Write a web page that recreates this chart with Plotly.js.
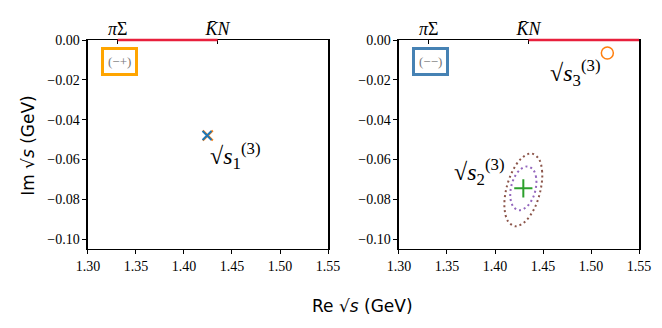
<!DOCTYPE html>
<html>
<head>
<meta charset="utf-8">
<script src="https://cdn.plot.ly/plotly-3.0.1.min.js"></script>
<style>html,body{margin:0;padding:0;background:#fff;}</style>
</head>
<body>
<div id="chart" style="width:662px;height:328px;"></div>
<script>
// thresholds (GeV)
var thrNames = ['<i>π</i>Σ', '<i>K̄N</i>'];
var thrVals = [1.331, 1.435];

// pole positions
var pole1Re = [1.424], pole1Im = [-0.048];   // (-+) sheet
var pole2Re = [1.4295], pole2Im = [-0.0745]; // (--) sheet
var pole3Re = [1.517], pole3Im = [-0.0065];  // (--) sheet

// uncertainty contours of pole 2
var innerRe = [1.4425, 1.4428, 1.4395, 1.4335, 1.4265, 1.4202, 1.4165, 1.4162, 1.4195, 1.4255, 1.4325, 1.4388, 1.4425];
var innerIm = [-0.0745, -0.069, -0.065, -0.0635, -0.065, -0.069, -0.0745, -0.080, -0.084, -0.0855, -0.084, -0.080, -0.0745];
var outerRe = [1.4475, 1.4491, 1.4454, 1.4375, 1.4274, 1.4179, 1.4115, 1.4099, 1.4136, 1.4215, 1.4316, 1.4411, 1.4475];
var outerIm = [-0.0753, -0.0662, -0.0595, -0.057, -0.0595, -0.0662, -0.0753, -0.0845, -0.0911, -0.0936, -0.0911, -0.0845, -0.0753];

// cut on the real axis (Im = 0, the top edge of each panel)
var cutLeftRe = [1.331, 1.435];
var cutRightRe = [1.435, 1.55];

var blue = '#1f77b4', orange = '#ff7f0e', green = '#2ca02c';
var purple = '#9467bd', brown = '#8c564b', red = '#e8203c';

var data = [
  { x: pole1Re.map(function (v) { return v + 0.0008; }), y: pole1Im, xaxis: 'x', yaxis: 'y', mode: 'markers',
    marker: { symbol: 'x-thin', size: 10, color: orange, line: { color: orange, width: 2 } } },
  { x: pole1Re, y: pole1Im, xaxis: 'x', yaxis: 'y', mode: 'markers',
    marker: { symbol: 'x-thin', size: 9, color: blue, line: { color: blue, width: 2 } } },

  { x: outerRe, y: outerIm, xaxis: 'x2', yaxis: 'y2', mode: 'lines',
    line: { color: brown, width: 2, dash: '2px,3px', shape: 'spline' } },
  { x: innerRe, y: innerIm, xaxis: 'x2', yaxis: 'y2', mode: 'lines',
    line: { color: purple, width: 2, dash: '2px,3px', shape: 'spline' } },
  { x: pole2Re, y: pole2Im, xaxis: 'x2', yaxis: 'y2', mode: 'markers',
    marker: { symbol: 'cross-thin', size: 13, color: green, line: { color: green, width: 2 } } },
  { x: pole3Re, y: pole3Im, xaxis: 'x2', yaxis: 'y2', mode: 'markers', cliponaxis: false,
    marker: { symbol: 'circle-open', size: 12, color: orange, line: { color: orange, width: 1.5 } } },

  // invisible traces so the top threshold axes get drawn
  { x: thrVals, y: [0, 0], xaxis: 'x3', yaxis: 'y', mode: 'markers', marker: { opacity: 0 }, hoverinfo: 'skip' },
  { x: thrVals, y: [0, 0], xaxis: 'x4', yaxis: 'y2', mode: 'markers', marker: { opacity: 0 }, hoverinfo: 'skip' }
];

var tickFont = { family: 'Liberation Serif, DejaVu Serif, serif', size: 14, color: '#000' };

function xax(dom) {
  return {
    domain: dom, range: [1.30, 1.55], tickvals: [1.30, 1.35, 1.40, 1.45, 1.50, 1.55],
    tickformat: '.2f', ticks: 'outside', ticklen: 4, tickwidth: 1, tickcolor: '#000',
    showline: true, linecolor: '#000', linewidth: 1.5, mirror: true, layer: 'below traces',
    showgrid: false, zeroline: false, tickfont: tickFont
  };
}
function yax(anchor) {
  return {
    anchor: anchor, domain: [0.2409, 0.878], range: [-0.105, 0],
    tickvals: [0, -0.02, -0.04, -0.06, -0.08, -0.10], tickformat: '.2f',
    ticks: 'outside', ticklen: 4, tickwidth: 1, tickcolor: '#000',
    showline: true, linecolor: '#000', linewidth: 1.5, mirror: true, layer: 'below traces',
    showgrid: false, zeroline: false, tickfont: tickFont
  };
}
function topax(over, dom) {
  return {
    overlaying: over, side: 'top', anchor: over === 'x' ? 'y' : 'y2', domain: dom,
    range: [1.30, 1.55], tickvals: thrVals, ticktext: thrNames,
    ticks: 'inside', ticklen: 4, tickwidth: 1, tickcolor: '#000', layer: 'below traces',
    showline: false, showgrid: false, zeroline: false,
    tickfont: { family: 'Liberation Serif, DejaVu Serif, serif', size: 18, color: '#000' }
  };
}

var lx = xax([0.1329, 0.4955]); lx.anchor = 'y';
var rx = xax([0.6027, 0.9653]); rx.anchor = 'y2';

var labelFont = { family: 'Liberation Serif, DejaVu Serif, serif', size: 24, color: '#000' };

var layout = {
  width: 662, height: 328,
  margin: { l: 0, r: 0, t: 0, b: 0 },
  paper_bgcolor: '#fff', plot_bgcolor: '#fff',
  showlegend: false,
  xaxis: lx, yaxis: yax('x'),
  xaxis2: rx, yaxis2: yax('x2'),
  xaxis3: topax('x', [0.1329, 0.4955]),
  xaxis4: topax('x2', [0.6027, 0.9653]),
  shapes: [
    { type: 'line', layer: 'above', xref: 'x', yref: 'y domain', x0: cutLeftRe[0], x1: cutLeftRe[1], y0: 1, y1: 1,
      line: { color: red, width: 2.5 } },
    { type: 'line', layer: 'above', xref: 'x2', yref: 'y2 domain', x0: cutRightRe[0], x1: cutRightRe[1], y0: 1, y1: 1,
      line: { color: red, width: 2.5 } }
  ],
  annotations: [
    { xref: 'x', yref: 'y', x: 1.3325, y: -0.0108, text: '(−+)', showarrow: false,
      font: { family: 'Liberation Serif, serif', size: 13, color: '#777' },
      bordercolor: '#ffa500', borderwidth: 3, borderpad: 4, bgcolor: '#fff' },
    { xref: 'x2', yref: 'y2', x: 1.3325, y: -0.0108, text: '(−−)', showarrow: false,
      font: { family: 'Liberation Serif, serif', size: 13, color: '#777' },
      bordercolor: '#4682b4', borderwidth: 3, borderpad: 4, bgcolor: '#fff' },
    { xref: 'x', yref: 'y', x: 1.4245, y: -0.0585, xanchor: 'left', showarrow: false,
      text: '√<i>s</i><sub>1</sub><sup>(3)</sup>', font: labelFont },
    { xref: 'x2', yref: 'y2', x: 1.4115, y: -0.0665, xanchor: 'right', showarrow: false,
      text: '√<i>s</i><sub>2</sub><sup>(3)</sup>', font: labelFont },
    { xref: 'x2', yref: 'y2', x: 1.5115, y: -0.0165, xanchor: 'right', showarrow: false,
      text: '√<i>s</i><sub>3</sub><sup>(3)</sup>', font: labelFont },
    { xref: 'paper', yref: 'paper', x: 0.548, y: 0.03, showarrow: false,
      text: 'Re √<i>s</i> (GeV)', font: { family: 'DejaVu Sans, sans-serif', size: 17, color: '#000' } },
    { xref: 'paper', yref: 'paper', x: 0.024, y: 0.558, showarrow: false, textangle: -90,
      text: 'Im √<i>s</i> (GeV)', font: { family: 'DejaVu Sans, sans-serif', size: 17, color: '#000' } }
  ]
};

Plotly.newPlot('chart', data, layout, { staticPlot: true });
</script>
</body>
</html>
